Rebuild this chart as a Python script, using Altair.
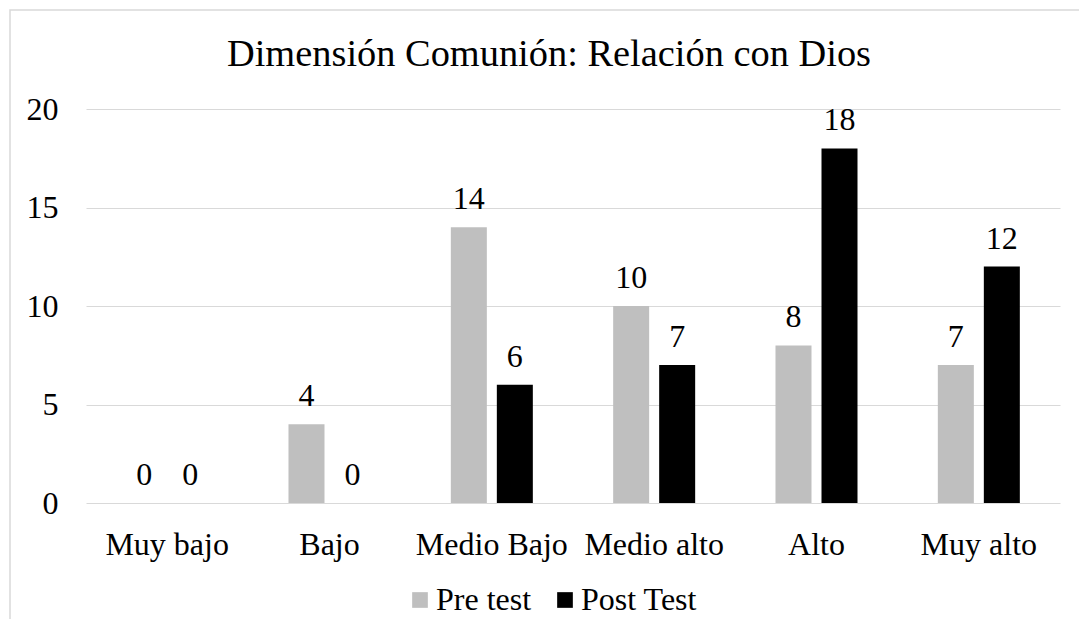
import altair as alt
import pandas as pd

categories = ["Muy bajo", "Bajo", "Medio Bajo", "Medio alto", "Alto", "Muy alto"]
series = ["Pre test", "Post Test"]
pre_values = [0, 4, 14, 10, 8, 7]
post_values = [0, 0, 6, 7, 18, 12]
colors = ["#bfbfbf", "#000000"]
y_ticks = [0, 5, 10, 15, 20]

rows = []
for c, a, b in zip(categories, pre_values, post_values):
    rows.append({"cat": c, "serie": series[0], "valor": a})
    rows.append({"cat": c, "serie": series[1], "valor": b})
df = pd.DataFrame(rows)

FONT = "Liberation Serif"
W, H = 974, 394
FS = 32

x = alt.X(
    "cat:N", sort=categories,
    scale=alt.Scale(paddingInner=0, paddingOuter=0),
    axis=alt.Axis(title=None, labelAngle=0, domain=False, ticks=False, grid=False,
                  labelPadding=26, labelFontSize=FS, labelFont=FONT, labelColor="#000000"),
)
xo = alt.XOffset("serie:N", sort=series,
                 scale=alt.Scale(paddingInner=0.2174, paddingOuter=0.873))
y = alt.Y(
    "valor:Q",
    scale=alt.Scale(domain=[0, 20], nice=False),
    axis=alt.Axis(title=None, values=y_ticks, domain=False, ticks=False, grid=True,
                  gridColor="#d9d9d9", gridWidth=1.2, labelPadding=28,
                  labelFontSize=FS, labelFont=FONT, labelColor="#000000"),
)

bars = alt.Chart(df).mark_bar().encode(
    x=x, xOffset=xo, y=y,
    color=alt.Color(
        "serie:N", sort=series,
        scale=alt.Scale(domain=series, range=colors),
        legend=alt.Legend(
            orient="none", legendX=318, legendY=475, direction="horizontal",
            title=None, symbolType="square", symbolSize=246, symbolStrokeWidth=0,
            labelFontSize=FS, labelFont=FONT, labelColor="#000000",
            columnPadding=17, labelOffset=0,
        ),
    ),
)

labels = alt.Chart(df).mark_text(
    baseline="alphabetic", dy=-18, fontSize=FS, font=FONT, color="#000000"
).encode(x=alt.X("cat:N", sort=categories), xOffset=alt.XOffset("serie:N", sort=series),
         y=alt.Y("valor:Q"), text="valor:Q")

border = alt.Chart(pd.DataFrame({"k": [0]})).mark_rect(
    fillOpacity=0, stroke="#d9d9d9", strokeWidth=1.5
).encode(x=alt.value(-76), x2=alt.value(W + 60), y=alt.value(-99), y2=alt.value(H + 200))

chart = alt.layer(border, bars, labels).properties(
    width=W, height=H,
    padding={"left": 78, "top": 101, "right": 19, "bottom": 116},
    autosize=alt.AutoSizeParams(type="none"),
    title=alt.TitleParams(
        "Dimensión Comunión: Relación con Dios", font=FONT, fontSize=38.4,
        fontWeight="normal", color="#000000", anchor="middle", dx=-24,
        baseline="alphabetic", offset=-95,
    ),
).configure_view(stroke=None)

chart.save("out.html", embed_options={"renderer": "svg", "actions": False})
